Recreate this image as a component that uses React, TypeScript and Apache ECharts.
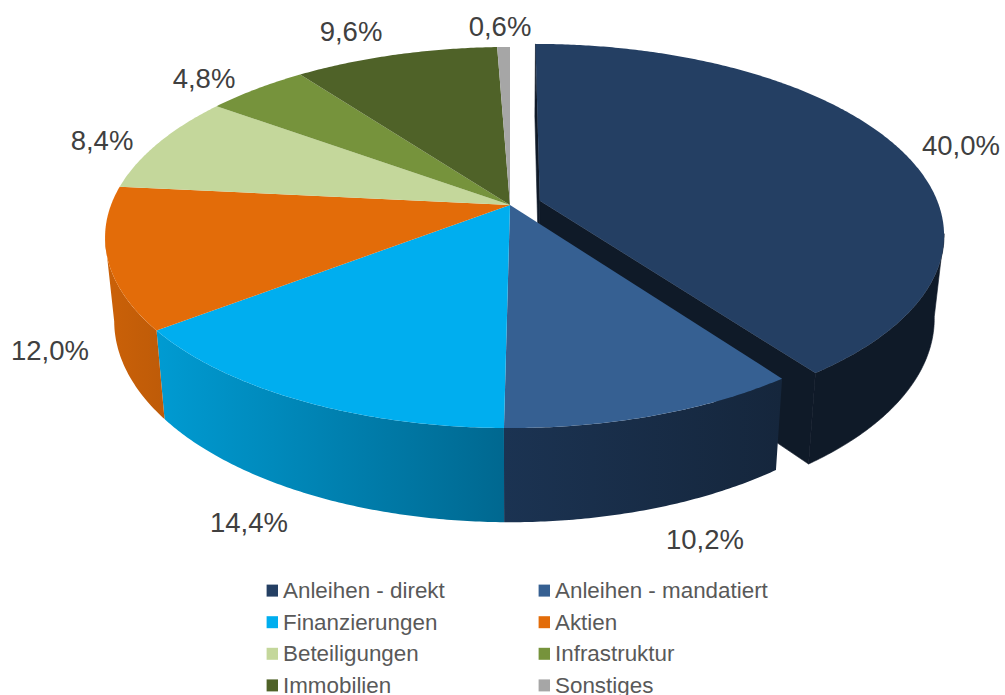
import React, { useEffect, useRef } from "react";
import * as echarts from "echarts";

const categories = ["Anleihen - direkt", "Anleihen - mandatiert", "Finanzierungen", "Aktien", "Beteiligungen", "Infrastruktur", "Immobilien", "Sonstiges"];
const shares = [40.0, 10.2, 14.4, 12.0, 8.4, 4.8, 9.6, 0.6];
const topColors = ["#243F63", "#366092", "#00AEEF", "#E36C09", "#C4D79B", "#76933C", "#4F6228", "#A6A6A6"];
const wallLeft = ["#0F1A28", "#1B3352", "#009BD2", "#CB6108", "#AFC08A", "#6A8436", "#465822", "#949494"];
const wallRight = ["#0F1A28", "#15263C", "#006890", "#BE5B08", "#AFC08A", "#6A8436", "#465822", "#949494"];
const labelCenters = [[961, 145], [705, 539], [249, 522], [50, 350], [102, 140], [204, 78], [351, 31], [500, 26]];
const leftLegend = [0, 2, 4, 6];
const rightLegend = [1, 3, 5, 7];

// Perspective model of the disc
const CX = 510;
const K = 0.1706;
const TOP = { rx: 399, ry: 185, y0: 205 };
const BOTTOM = { rx: 390, ry: 195.5, y0: 286.5 };
const EXPLODE = { du: 0.075, dv: 0.0227 };
const VISIBLE = [100, 260];

type Plane = { rx: number; ry: number; y0: number };
const rad = (d: number) => (d * Math.PI) / 180;
const project = (p: Plane, u: number, v: number, off: number) => {
  const U = u + off * EXPLODE.du;
  const V = v + off * EXPLODE.dv;
  const d = 1 + K * V;
  return [CX + (p.rx * U) / d, p.y0 - (p.ry * V) / d];
};
const rim = (p: Plane, t: number, off: number) => project(p, Math.sin(rad(t)), Math.cos(rad(t)), off);
const arc = (p: Plane, a: number, b: number, off: number) => {
  const n = Math.max(2, Math.ceil(Math.abs(b - a) / 0.5));
  const pts: number[][] = [];
  for (let i = 0; i <= n; i++) pts.push(rim(p, a + ((b - a) * i) / n, off));
  return pts;
};
const startAngle = (i: number) => shares.slice(0, i).reduce((s, v) => s + v, 0) * 3.6;
const endAngle = (i: number) => startAngle(i) + shares[i] * 3.6;
const pct = (v: number) => v.toFixed(1).replace(".", ",") + "%";

const topRender = (i: number) => () => {
  const off = i === 0 ? 1 : 0;
  const pts = [project(TOP, 0, 0, off), ...arc(TOP, startAngle(i), endAngle(i), off)];
  return {
    type: "group",
    children: [
      { type: "polygon", shape: { points: pts }, style: { fill: topColors[i] } },
      {
        type: "text",
        z2: 10,
        style: {
          x: labelCenters[i][0], y: labelCenters[i][1], text: pct(shares[i]),
          fill: "#404040", fontFamily: "Liberation Sans", fontSize: 27.5,
          align: "center", verticalAlign: "middle",
        },
      },
    ],
  };
};

const wallRender = (i: number) => () => {
  const off = i === 0 ? 1 : 0;
  const a = Math.max(startAngle(i), VISIBLE[0]);
  const b = Math.min(endAngle(i), VISIBLE[1]);
  const children: any[] = [];
  if (off) {
    [startAngle(i), endAngle(i)].forEach((t) => {
      children.push({
        type: "polygon",
        shape: { points: [project(TOP, 0, 0, off), rim(TOP, t, off), rim(BOTTOM, t, off), project(BOTTOM, 0, 0, off)] },
        style: { fill: wallLeft[i], stroke: wallLeft[i], lineWidth: 0.6 },
      });
    });
  }
  if (b > a) {
    children.push({
      type: "polygon",
      shape: { points: [...arc(TOP, a, b, off), ...arc(BOTTOM, b, a, off)] },
      style: {
        fill: new echarts.graphic.LinearGradient(0, 0, 1, 0, [
          { offset: 0, color: wallLeft[i] },
          { offset: 1, color: wallRight[i] },
        ]),
        ...(off ? { stroke: wallLeft[i], lineWidth: 0.6 } : {}),
      },
    });
  }
  return { type: "group", children };
};

const legendText = { color: "#595959", fontFamily: "Liberation Sans", fontSize: 22.4, lineHeight: 24 };
const makeLegend = (idx: number[], left: number) => ({
  orient: "vertical",
  left,
  top: 578.6,
  height: 130,
  itemWidth: 11.4,
  itemHeight: 12,
  itemGap: 7.6,
  padding: 0,
  selectedMode: false,
  textStyle: legendText,
  data: idx.map((i) => ({ name: categories[i], icon: "rect", itemStyle: { color: topColors[i] } })),
});

export default function App() {
  const ref = useRef<HTMLDivElement>(null);
  useEffect(() => {
    const chart = echarts.init(ref.current!, null, { renderer: "svg" });
    const series: any[] = [];
    const wallOrder = [1, 2, 3];
    series.push({ type: "custom", name: "wall-0", coordinateSystem: "none", silent: true, z: 1, data: [[shares[0]]], renderItem: wallRender(0) });
    series.push({ type: "custom", name: categories[0], coordinateSystem: "none", silent: true, z: 2, itemStyle: { color: topColors[0] }, data: [[shares[0]]], renderItem: topRender(0) });
    wallOrder.forEach((i) => {
      series.push({ type: "custom", name: "wall-" + i, coordinateSystem: "none", silent: true, z: 3, data: [[shares[i]]], renderItem: wallRender(i) });
    });
    categories.forEach((c, i) => {
      if (i === 0) return;
      series.push({ type: "custom", name: c, coordinateSystem: "none", silent: true, z: 4, itemStyle: { color: topColors[i] }, data: [[shares[i]]], renderItem: topRender(i) });
    });
    chart.setOption({
      animation: false,
      backgroundColor: "#ffffff",
      legend: [makeLegend(leftLegend, 266.6), makeLegend(rightLegend, 538.6)],
      series,
    });
    return () => chart.dispose();
  }, []);
  return <div ref={ref} style={{ position: "fixed", left: 0, top: 0, width: 1005, height: 695 }} />;
}
